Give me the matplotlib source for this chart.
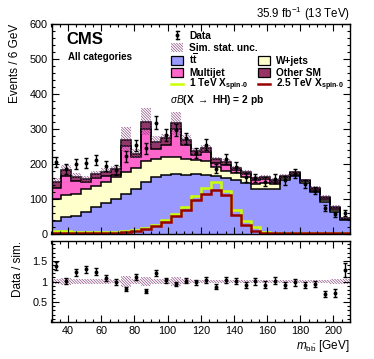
import numpy as np
import matplotlib
matplotlib.use('Agg')
import matplotlib.pyplot as plt
from matplotlib.ticker import MultipleLocator, FormatStrFormatter
from matplotlib.patches import Rectangle
from matplotlib.lines import Line2D

plt.rcParams['font.family'] = ['Liberation Sans', 'DejaVu Sans']
plt.rcParams['mathtext.fontset'] = 'custom'
plt.rcParams['mathtext.rm'] = 'Liberation Sans'
plt.rcParams['mathtext.it'] = 'Liberation Sans:italic'
plt.rcParams['mathtext.bf'] = 'Liberation Sans:bold'
plt.rcParams['hatch.linewidth'] = 0.45

# m_bb bins, 6 GeV wide from 30 to 210
edges = np.arange(30, 211, 6)

# cumulative stack tops (events / 6 GeV)
ttbar_top = [36, 48, 52, 64, 76, 88, 100, 113, 128, 150,
             163, 170, 172, 169, 171, 170, 167, 161, 155, 146,
             129, 129, 129, 153, 166, 147, 121, 92, 63, 40]
wjets_top = [101, 111, 113, 128, 137, 150, 162, 176, 188, 210,
             213, 221, 219, 215, 211, 210, 192, 181, 173, 164,
             143, 145, 143, 160, 170, 152, 124, 97, 68, 42]
multijet_top = [131, 165, 152, 148, 160, 165, 170, 252, 220, 300,
                243, 255, 300, 255, 225, 235, 204, 198, 182, 172,
                155, 158, 150, 163, 173, 152, 128, 103, 74, 44]
total = [150, 183, 164, 157, 171, 178, 185, 270, 230, 321,
         264, 273, 316, 268, 236, 245, 213, 207, 188, 176,
         159, 162, 155, 166, 176, 154, 132, 107, 78, 47]
sim_unc = [9, 14, 10, 8, 10, 10, 8, 35, 12, 38,
           15, 14, 33, 15, 10, 10, 7, 8, 6, 6,
           6, 6, 5, 5, 5, 4, 4, 4, 4, 3]
data = [205, 186, 201, 203, 212, 194, 183, 222, 254, 245,
        318, 282, 298, 273, 231, 255, 187, 215, 192, 162,
        160, 150, 158, 153, 172, 142, 124, 75, 56, 60]
sig_1tev = [10, 9, 7, 6, 6, 6, 7, 8, 12, 16,
            26, 40, 58, 76, 108, 132, 150, 122, 68, 37,
            20, 7, 3, 3, 3, 3, 3, 3, 3, 3]
sig_2p5tev = [4, 4, 3, 3, 3, 3, 4, 6, 9, 13,
              22, 34, 52, 68, 96, 115, 127, 112, 55, 26,
              10, 4, 2, 2, 2, 2, 2, 2, 2, 2]

c_tt = '#9999ff'
c_wj = '#ffffcc'
c_mj = '#ff66cc'
c_osm = '#993366'
c_hatch = '#84407a'
c_1tev = '#ccff00'
c_2p5 = '#990000'
HATCH = '\\' * 12

W, H = 374, 359
fig = plt.figure(figsize=(W / 100.0, H / 100.0), dpi=100)
ax = fig.add_axes([51.5 / W, 1 - 234.0 / H, 298.5 / W, 210.0 / H])
rax = fig.add_axes([51.5 / W, 1 - 322.0 / H, 298.5 / W, 81.0 / H])

ttbar_top = np.array(ttbar_top, float)
wjets_top = np.array(wjets_top, float)
multijet_top = np.array(multijet_top, float)
total = np.array(total, float)
sim_unc = np.array(sim_unc, float)
data = np.array(data, float)
centers = 0.5 * (edges[1:] + edges[:-1])

# stacked backgrounds
ax.stairs(ttbar_top, edges, baseline=0, fill=True, facecolor=c_tt)
ax.stairs(wjets_top, edges, baseline=ttbar_top, fill=True, facecolor=c_wj)
ax.stairs(multijet_top, edges, baseline=wjets_top, fill=True, facecolor=c_mj)
ax.stairs(total, edges, baseline=multijet_top, fill=True, facecolor=c_osm)
for top in [ttbar_top, wjets_top, multijet_top, total]:
    ax.stairs(top, edges, baseline=None, color='black', lw=1.1)

# simulation stat. uncertainty
ax.stairs(total + sim_unc, edges, baseline=total - sim_unc, fill=True,
          facecolor='none', edgecolor=c_hatch, hatch=HATCH, lw=0)

# signals
ax.stairs(sig_1tev, edges, baseline=None, color=c_1tev, lw=1.8)
ax.stairs(sig_2p5tev, edges, baseline=None, color=c_2p5, lw=1.8)

# data
ax.errorbar(centers, data, yerr=np.sqrt(data), fmt='o', color='black',
            ms=1.8, elinewidth=1.0, capsize=1.3, capthick=1.0)

ax.set_xlim(30, 210)
ax.set_ylim(0, 600)
ax.yaxis.set_major_locator(MultipleLocator(100))
ax.yaxis.set_minor_locator(MultipleLocator(20))
ax.xaxis.set_major_locator(MultipleLocator(20))
ax.xaxis.set_minor_locator(MultipleLocator(5))
ax.tick_params(labelbottom=False)
ax.set_ylabel('Events / 6 GeV', loc='top', fontsize=8.5, labelpad=6)

# ratio panel
ratio = data / total
rax.stairs(1 + sim_unc / total, edges, baseline=1 - sim_unc / total, fill=True,
           facecolor='none', edgecolor=c_hatch, hatch=HATCH, lw=0)
rax.errorbar(centers, ratio, yerr=np.sqrt(data) / total, fmt='o', color='black',
             ms=1.8, elinewidth=1.0, capsize=1.3, capthick=1.0)
rax.set_xlim(30, 210)
rax.set_ylim(0.02, 1.98)
rax.yaxis.set_major_locator(MultipleLocator(0.5))
rax.yaxis.set_minor_locator(MultipleLocator(0.1))
rax.yaxis.set_major_formatter(FormatStrFormatter('%g'))
rax.xaxis.set_major_locator(MultipleLocator(20))
rax.xaxis.set_minor_locator(MultipleLocator(5))
rax.set_ylabel('Data / sim.', loc='top', fontsize=8.5, labelpad=6)
rax.set_xlabel(r'$m_{\mathrm{b\bar{b}}}$ [GeV]', loc='right', fontsize=8.5, labelpad=1)

for a in (ax, rax):
    a.tick_params(which='both', direction='in', top=True, right=True, labelsize=7.8,
                  width=0.8, pad=3)
    a.tick_params(which='major', length=5)
    a.tick_params(which='minor', length=2.5)
    for s in a.spines.values():
        s.set_linewidth(1.0)

fig.text(66 / W, 1 - 39.0 / H, 'CMS', fontsize=12, fontweight='bold', va='center', ha='left')
fig.text(68 / W, 1 - 57.0 / H, 'All categories', fontsize=7, fontweight='bold',
         va='center', ha='left')
fig.text(350 / W, 1 - 14.0 / H, r'35.9 fb$^{-1}$ (13 TeV)', fontsize=8.3,
         ha='right', va='center')


# legend, placed by hand in figure pixels
def fx(px):
    return px / W


def fy(py):
    return 1 - py / H


def legend_box(x, y, **kw):
    fig.add_artist(Rectangle((fx(x), fy(y + 4.5)), 12.0 / W, 9.0 / H,
                             transform=fig.transFigure, **kw))


def legend_text(x, y, s):
    # y is the row centre; put the baseline a little below it
    fig.text(fx(x), fy(y + 3.6), s, fontsize=7.3, fontweight='bold',
             va='baseline', ha='left')


rows = [35, 47, 60.5, 72.5, 84, 99.5]
col1, col2 = 171, 258

# data marker
fig.add_artist(Line2D([fx(col1 + 6)] * 2, [fy(rows[0] - 4), fy(rows[0] + 4)],
                      transform=fig.transFigure, color='black', lw=1.0))
for dy in (-4, 4):
    fig.add_artist(Line2D([fx(col1 + 4.5), fx(col1 + 7.5)], [fy(rows[0] + dy)] * 2,
                          transform=fig.transFigure, color='black', lw=1.0))
fig.add_artist(Line2D([fx(col1 + 6)], [fy(rows[0])], transform=fig.transFigure,
                      marker='o', ms=1.8, color='black'))
legend_text(col1 + 18, rows[0], 'Data')

legend_box(col1, rows[1], facecolor='none', edgecolor=c_hatch, hatch=HATCH, lw=0)
legend_text(col1 + 18, rows[1], 'Sim. stat. unc.')

legend_box(col1, rows[2], facecolor=c_tt, edgecolor='black', lw=0.9)
legend_text(col1 + 18, rows[2], r'$\mathbf{t\overline{t}}$')
legend_box(col2, rows[2], facecolor=c_wj, edgecolor='black', lw=0.9)
legend_text(col2 + 18, rows[2], 'W+jets')

legend_box(col1, rows[3], facecolor=c_mj, edgecolor='black', lw=0.9)
legend_text(col1 + 18, rows[3], 'Multijet')
legend_box(col2, rows[3], facecolor=c_osm, edgecolor='black', lw=0.9)
legend_text(col2 + 18, rows[3], 'Other SM')

fig.add_artist(Line2D([fx(col1), fx(col1 + 12)], [fy(rows[4])] * 2,
                      transform=fig.transFigure, color=c_1tev, lw=1.8))
legend_text(col1 + 18, rows[4], r'1 TeV X$_{\mathbf{spin\text{-}0}}$')
fig.add_artist(Line2D([fx(col2), fx(col2 + 12)], [fy(rows[4])] * 2,
                      transform=fig.transFigure, color=c_2p5, lw=1.8))
legend_text(col2 + 18, rows[4], r'2.5 TeV X$_{\mathbf{spin\text{-}0}}$')

legend_text(col1 - 1, rows[5], r'$\sigma\mathit{B}$(X $\rightarrow$ HH) = 2 pb')

fig.savefig('out.png', dpi=100)
